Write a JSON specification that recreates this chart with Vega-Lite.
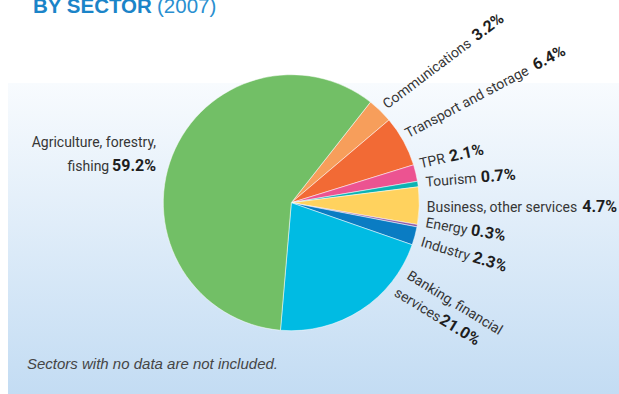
{
  "$schema": "https://vega.github.io/schema/vega-lite/v6.json",
  "width": 611,
  "height": 311,
  "autosize": {"type": "none"},
  "padding": {"left": 8, "top": 83, "right": 0, "bottom": 0},
  "background": "#ffffff",
  "config": {
    "view": {"stroke": null},
    "text": {"font": "Roboto", "fontSize": 14, "baseline": "alphabetic", "align": "left", "color": "#363636"}
  },
  "layer": [
    {
      "data": {"values": [{"panel": "background"}]},
      "mark": {"type": "rect", "fill": {"gradient": "linear", "x1": 0, "y1": 0, "x2": 0, "y2": 1, "stops": [{"offset": 0, "color": "#f8fbfe"}, {"offset": 1, "color": "#c3dcf3"}]}},
      "encoding": {}
    },
    {
      "data": {"values": [
        {"seq": 1, "sector": "Communications", "name": "Communications", "name2": "", "share": 0.032},
        {"seq": 2, "sector": "Transport and storage", "name": "Transport and storage", "name2": "", "share": 0.064},
        {"seq": 3, "sector": "TPR", "name": "TPR", "name2": "", "share": 0.021},
        {"seq": 4, "sector": "Tourism", "name": "Tourism", "name2": "", "share": 0.007},
        {"seq": 5, "sector": "Business, other services", "name": "Business, other services", "name2": "", "share": 0.047},
        {"seq": 6, "sector": "Energy", "name": "Energy", "name2": "", "share": 0.003},
        {"seq": 7, "sector": "Industry", "name": "Industry", "name2": "", "share": 0.023},
        {"seq": 8, "sector": "Banking, financial services", "name": "Banking, financial", "name2": "services", "share": 0.21},
        {"seq": 9, "sector": "Agriculture, forestry, fishing", "name": "Agriculture, forestry,", "name2": "fishing", "share": 0.592}
      ]},
      "encoding": {
        "theta": {"field": "share", "type": "quantitative", "stack": true, "scale": {"range": [0.6667, 6.9499]}},
        "order": {"field": "seq", "type": "quantitative"},
        "detail": {"field": "sector", "type": "nominal"}
      },
      "layer": [
        {
          "mark": {"type": "arc", "outerRadius": 128, "stroke": "#ffffff", "strokeWidth": 0.5, "xOffset": -22.2, "yOffset": -35.8},
          "encoding": {
            "color": {"field": "sector", "type": "nominal", "legend": null, "scale": {
              "domain": ["Communications", "Transport and storage", "TPR", "Tourism", "Business, other services", "Energy", "Industry", "Banking, financial services", "Agriculture, forestry, fishing"],
              "range": ["#f79e5b", "#f26a35", "#ec5391", "#0cb3b3", "#ffd25e", "#8e5ba8", "#0a7cc3", "#00bbe3", "#72bf66"]}}
          }
        },
        {"mark": {"type": "text", "radius": 133.9, "thetaOffset": 0.0316, "angle": -37, "xOffset": -22.2, "yOffset": -35.8},
         "encoding": {"text": {"condition": {"test": "datum.seq === 1", "field": "name", "type": "nominal"}, "value": ""}}},
        {"mark": {"type": "text", "radius": 133.9, "thetaOffset": 0.0316, "angle": -37, "dx": 112.5, "fontWeight": "bold", "fontSize": 16, "color": "#1e1e1e", "xOffset": -22.2, "yOffset": -35.8},
         "encoding": {"text": {"condition": {"test": "datum.seq === 1", "field": "share", "type": "quantitative", "format": ".1%"}, "value": ""}}},

        {"mark": {"type": "text", "radius": 133.6, "thetaOffset": -0.0016, "angle": -28, "xOffset": -22.2, "yOffset": -35.8},
         "encoding": {"text": {"condition": {"test": "datum.seq === 2", "field": "name", "type": "nominal"}, "value": ""}}},
        {"mark": {"type": "text", "radius": 133.6, "thetaOffset": -0.0016, "angle": -28, "dx": 144.5, "fontWeight": "bold", "fontSize": 16, "color": "#1e1e1e", "xOffset": -22.2, "yOffset": -35.8},
         "encoding": {"text": {"condition": {"test": "datum.seq === 2", "field": "share", "type": "quantitative", "format": ".1%"}, "value": ""}}},

        {"mark": {"type": "text", "radius": 133.9, "thetaOffset": -0.0257, "angle": -12.5, "xOffset": -22.2, "yOffset": -35.8},
         "encoding": {"text": {"condition": {"test": "datum.seq === 3", "field": "name", "type": "nominal"}, "value": ""}}},
        {"mark": {"type": "text", "radius": 133.9, "thetaOffset": -0.0257, "angle": -12.5, "dx": 30.5, "fontWeight": "bold", "fontSize": 16, "color": "#1e1e1e", "xOffset": -22.2, "yOffset": -35.8},
         "encoding": {"text": {"condition": {"test": "datum.seq === 3", "field": "share", "type": "quantitative", "format": ".1%"}, "value": ""}}},

        {"mark": {"type": "text", "radius": 135.6, "thetaOffset": 0.0281, "angle": -4.5, "xOffset": -22.2, "yOffset": -35.8},
         "encoding": {"text": {"condition": {"test": "datum.seq === 4", "field": "name", "type": "nominal"}, "value": ""}}},
        {"mark": {"type": "text", "radius": 135.6, "thetaOffset": 0.0281, "angle": -4.5, "dx": 55.5, "fontWeight": "bold", "fontSize": 16, "color": "#1e1e1e", "xOffset": -22.2, "yOffset": -35.8},
         "encoding": {"text": {"condition": {"test": "datum.seq === 4", "field": "share", "type": "quantitative", "format": ".1%"}, "value": ""}}},

        {"mark": {"type": "text", "radius": 135.7, "thetaOffset": 0.0414, "angle": 0, "xOffset": -22.2, "yOffset": -35.8},
         "encoding": {"text": {"condition": {"test": "datum.seq === 5", "field": "name", "type": "nominal"}, "value": ""}}},
        {"mark": {"type": "text", "radius": 135.7, "thetaOffset": 0.0414, "angle": 0, "dx": 155.5, "fontWeight": "bold", "fontSize": 16, "color": "#1e1e1e", "xOffset": -22.2, "yOffset": -35.8},
         "encoding": {"text": {"condition": {"test": "datum.seq === 5", "field": "share", "type": "quantitative", "format": ".1%"}, "value": ""}}},

        {"mark": {"type": "text", "radius": 135.9, "thetaOffset": -0.001, "angle": 10, "xOffset": -22.2, "yOffset": -35.8},
         "encoding": {"text": {"condition": {"test": "datum.seq === 6", "field": "name", "type": "nominal"}, "value": ""}}},
        {"mark": {"type": "text", "radius": 135.9, "thetaOffset": -0.001, "angle": 10, "dx": 46, "fontWeight": "bold", "fontSize": 16, "color": "#1e1e1e", "xOffset": -22.2, "yOffset": -35.8},
         "encoding": {"text": {"condition": {"test": "datum.seq === 6", "field": "share", "type": "quantitative", "format": ".1%"}, "value": ""}}},

        {"mark": {"type": "text", "radius": 135.8, "thetaOffset": 0.062, "angle": 17, "xOffset": -22.2, "yOffset": -35.8},
         "encoding": {"text": {"condition": {"test": "datum.seq === 7", "field": "name", "type": "nominal"}, "value": ""}}},
        {"mark": {"type": "text", "radius": 135.8, "thetaOffset": 0.062, "angle": 17, "dx": 54, "fontWeight": "bold", "fontSize": 16, "color": "#1e1e1e", "xOffset": -22.2, "yOffset": -35.8},
         "encoding": {"text": {"condition": {"test": "datum.seq === 7", "field": "share", "type": "quantitative", "format": ".1%"}, "value": ""}}},

        {"mark": {"type": "text", "radius": 137.4, "thetaOffset": -0.4126, "angle": 31.5, "xOffset": -22.2, "yOffset": -35.8},
         "encoding": {"text": {"condition": {"test": "datum.seq === 8", "field": "name", "type": "nominal"}, "value": ""}}},
        {"mark": {"type": "text", "radius": 137.4, "thetaOffset": -0.4126, "angle": 31.5, "dx": -2, "dy": 21, "xOffset": -22.2, "yOffset": -35.8},
         "encoding": {"text": {"condition": {"test": "datum.seq === 8", "field": "name2", "type": "nominal"}, "value": ""}}},
        {"mark": {"type": "text", "radius": 137.4, "thetaOffset": -0.4126, "angle": 31.5, "dx": 51, "dy": 21, "fontWeight": "bold", "fontSize": 16, "color": "#1e1e1e", "xOffset": -22.2, "yOffset": -35.8},
         "encoding": {"text": {"condition": {"test": "datum.seq === 8", "field": "share", "type": "quantitative", "format": ".1%"}, "value": ""}}},

        {"mark": {"type": "text", "radius": 146.1, "thetaOffset": 0.0117, "angle": 0, "align": "right", "xOffset": -22.2, "yOffset": -35.8},
         "encoding": {"text": {"condition": {"test": "datum.seq === 9", "field": "name", "type": "nominal"}, "value": ""}}},
        {"mark": {"type": "text", "radius": 146.1, "thetaOffset": 0.0117, "angle": 0, "align": "right", "dx": -46.8, "dy": 24, "xOffset": -22.2, "yOffset": -35.8},
         "encoding": {"text": {"condition": {"test": "datum.seq === 9", "field": "name2", "type": "nominal"}, "value": ""}}},
        {"mark": {"type": "text", "radius": 146.1, "thetaOffset": 0.0117, "angle": 0, "align": "right", "dy": 24, "fontWeight": "bold", "fontSize": 16, "color": "#1e1e1e", "xOffset": -22.2, "yOffset": -35.8},
         "encoding": {"text": {"condition": {"test": "datum.seq === 9", "field": "share", "type": "quantitative", "format": ".1%"}, "value": ""}}}
      ]
    },
    {
      "data": {"values": [{"t": "BY SECTOR"}]},
      "mark": {"type": "text", "font": "Liberation Sans", "fontSize": 20.5, "fontWeight": "bold", "color": "#1b84c8", "align": "left", "baseline": "alphabetic", "dx": -280.5, "dy": -226},
      "encoding": {"text": {"field": "t", "type": "nominal"}}
    },
    {
      "data": {"values": [{"t": "(2007)"}]},
      "mark": {"type": "text", "font": "Liberation Sans", "fontSize": 20.5, "color": "#2a8fd0", "align": "left", "baseline": "alphabetic", "dx": -156.5, "dy": -226},
      "encoding": {"text": {"field": "t", "type": "nominal"}}
    },
    {
      "data": {"values": [{"t": "Sectors with no data are not included."}]},
      "mark": {"type": "text", "font": "Liberation Sans", "fontSize": 15, "fontStyle": "italic", "color": "#454545", "align": "left", "baseline": "alphabetic", "dx": -286.5, "dy": 130.5},
      "encoding": {"text": {"field": "t", "type": "nominal"}}
    }
  ]
}
